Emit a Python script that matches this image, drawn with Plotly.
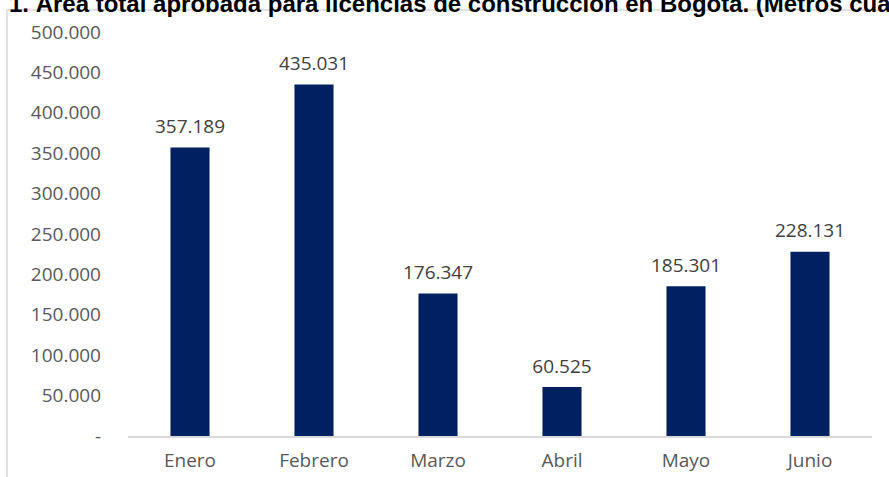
import plotly.graph_objects as go

months = ["Enero", "Febrero", "Marzo", "Abril", "Mayo", "Junio"]
area_m2 = [357189, 435031, 176347, 60525, 185301, 228131]
tick_vals = [0, 50000, 100000, 150000, 200000, 250000, 300000, 350000, 400000, 450000, 500000]
tick_text = ["-", "50.000", "100.000", "150.000", "200.000", "250.000", "300.000",
             "350.000", "400.000", "450.000", "500.000"]
title_text = "1. Área total aprobada para licencias de construcción en Bogotá. (Metros cuadrados)"

labels = [f"{v:,}".replace(",", ".") for v in area_m2]

W, H = 889, 477
L, R, T, B = 128, 17, 32, 41
pw = W - L - R
ph = H - T - B
FONT = "Open Sans"

fig = go.Figure()
fig.add_trace(go.Bar(
    x=months, y=area_m2, width=0.315,
    marker=dict(color="#002060", line=dict(width=0)),
    hoverinfo="skip",
))
fig.add_trace(go.Scatter(
    x=months, y=area_m2, mode="markers+text",
    marker=dict(size=14, color="rgba(0,0,0,0)"),
    text=labels, textposition="top center",
    textfont=dict(family=FONT, size=19, color="#404040"),
    cliponaxis=False, hoverinfo="skip",
))

def px2x(px):
    return (px - L) / pw

def py2y(py):
    return (H - B - py) / ph

fig.update_layout(
    template="none",
    width=W, height=H,
    margin=dict(l=L, r=R, t=T, b=B, pad=0, autoexpand=False),
    paper_bgcolor="white", plot_bgcolor="white",
    showlegend=False,
    xaxis=dict(showline=True, linecolor="#d9d9d9", linewidth=2, ticks="",
               automargin=False,
               tickfont=dict(family=FONT, size=19, color="#595959"),
               ticklabelstandoff=6,
               showgrid=False, zeroline=False),
    yaxis=dict(range=[0, 500000], tickvals=tick_vals, ticktext=tick_text,
               automargin=False,
               showgrid=False, zeroline=False, showline=False, ticks="",
               ticklabelstandoff=26,
               tickfont=dict(family=FONT, size=19, color="#595959")),
    shapes=[
        dict(type="line", xref="paper", yref="paper",
             x0=px2x(7), x1=px2x(W + 20), y0=py2y(10), y1=py2y(10),
             line=dict(color="#d9d9d9", width=1.5)),
        dict(type="line", xref="paper", yref="paper",
             x0=px2x(7), x1=px2x(7), y0=py2y(10), y1=py2y(H + 20),
             line=dict(color="#d9d9d9", width=1.5)),
    ],
    annotations=[dict(
        text="<b>" + title_text + "</b>", xref="paper", yref="paper",
        x=px2x(7), y=py2y(13), xanchor="left", yanchor="bottom",
        yshift=-6, showarrow=False,
        font=dict(family="Liberation Sans", size=24, color="#000000"),
    )],
)

fig.write_html(
    "out.html",
    config={"displayModeBar": False, "staticPlot": True},
    post_script="document.body.style.margin='0';document.body.style.overflow='hidden';",
)
